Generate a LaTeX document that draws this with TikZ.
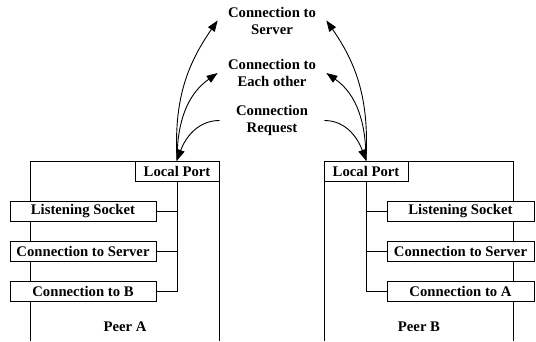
\documentclass[tikz,border=0pt]{standalone}
\usepackage{fontspec}
\setmainfont{Liberation Serif}
\usetikzlibrary{arrows.meta}

\begin{document}
\begin{tikzpicture}[x=1pt,y=1pt,line width=0.9pt,
  font=\bfseries\fontsize{14.7}{17}\selectfont,
  box/.style={draw,fill=white,rectangle,inner sep=2pt,minimum height=20pt},
  msg/.style={align=center,inner xsep=10pt},
  link/.style={-{Triangle[length=11pt,width=8pt]}}]
  \useasboundingbox (0,0) rectangle (536,341);
  % peer frames
  \draw (30,0) |- (219,180) -- (219,0);
  \draw (324,0) |- (513,180) -- (513,0);
  % peer A
  \node [box,minimum width=84pt]  (lpA) at (177,170) {Local Port};
  \node [box,minimum width=146pt] (lsA) at (83,130) {Listening Socket};
  \node [box,minimum width=146pt] (csA) at (83,90)  {Connection to Server};
  \node [box,minimum width=146pt] (cbA) at (83,50)  {Connection to B};
  \node (peerA) at (125,14) {Peer A};
  \draw (lpA.south) |- (cbA.east);
  \draw (lsA.east) -- (lsA.east -| lpA.south);
  \draw (csA.east) -- (csA.east -| lpA.south);
  % peer B
  \node [box,minimum width=84pt]  (lpB) at (366,170) {Local Port};
  \node [box,minimum width=147pt] (lsB) at (460.5,130) {Listening Socket};
  \node [box,minimum width=147pt] (csB) at (460.5,90)  {Connection to Server};
  \node [box,minimum width=147pt] (caB) at (460.5,50)  {Connection to A};
  \node (peerB) at (419,14) {Peer B};
  \draw (lpB.south) |- (caB.west);
  \draw (lsB.west) -- (lsB.west -| lpB.south);
  \draw (csB.west) -- (csB.west -| lpB.south);
  % messages
  \node [msg] (srv)  at (272,320.5) {Connection to\\Server};
  \node [msg] (each) at (272,268)   {Connection to\\Each other};
  \node [msg,inner xsep=16pt] (req) at (272,220.5) {Connection\\Request};
  \draw [link] (lpA.north) to [out=93,in=-125] (srv.west);
  \draw [link] (lpA.north) to [out=90,in=-145] (each.west);
  \draw [link] (req.west) to [out=180,in=70] (lpA.north);
  \draw [link] (lpB.north) to [out=87,in=-55] (srv.east);
  \draw [link] (lpB.north) to [out=90,in=-35] (each.east);
  \draw [link] (req.east) to [out=0,in=110] (lpB.north);
\end{tikzpicture}
\end{document}
